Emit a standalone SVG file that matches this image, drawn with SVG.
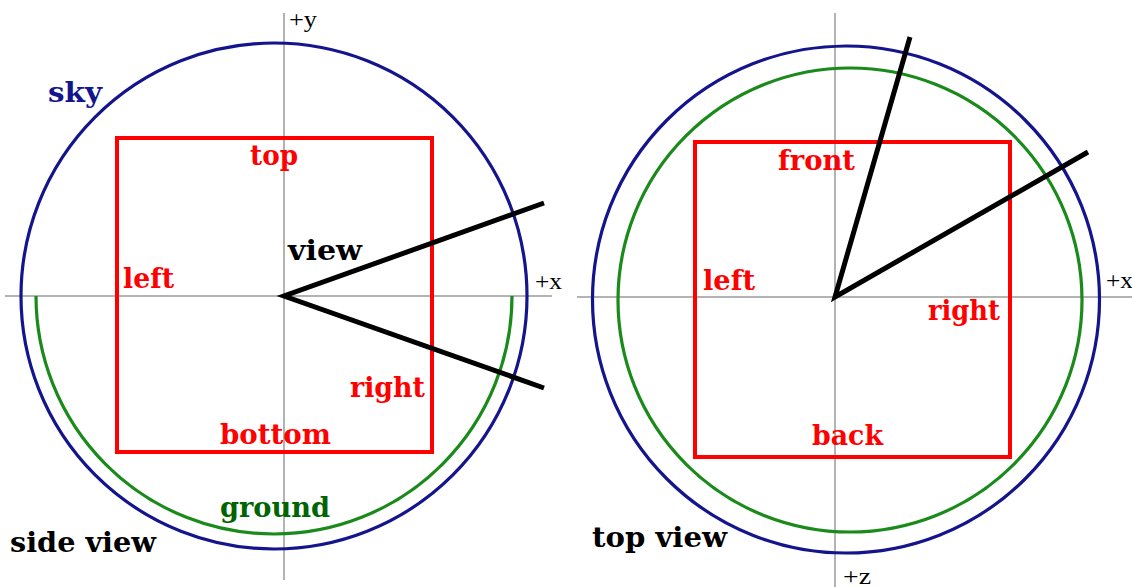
<svg xmlns="http://www.w3.org/2000/svg" width="1132" height="587" viewBox="0 0 1132 587">
<style>
.axis{stroke:#9a9a9a;stroke-width:1.5;fill:none}
.sky{stroke:#14148c;stroke-width:3.2;fill:none}
.gnd{stroke:#1a8a1a;stroke-width:3.2;fill:none}
.box{stroke:#ff0000;stroke-width:4;fill:none}
.ray{stroke:#000;stroke-width:5;fill:none;stroke-linecap:butt}
.lbl{font-family:"DejaVu Serif","Liberation Serif",serif;font-weight:bold;font-size:28px}
.ax{font-family:"Liberation Serif","DejaVu Serif",serif;font-size:24px;fill:#000}
.red{fill:#ff0000}
</style>
<rect width="1132" height="587" fill="#fff"/>
<g id="side-view">
  <g id="side-axes">
    <line class="axis" x1="284" y1="13" x2="284" y2="580"/>
    <line class="axis" x1="5" y1="296" x2="552" y2="296"/>
    <text class="ax" x="289" y="27" textLength="28" lengthAdjust="spacingAndGlyphs">+y</text>
    <text class="ax" x="535" y="289" textLength="27" lengthAdjust="spacingAndGlyphs">+x</text>
  </g>
  <circle id="side-sky" class="sky" cx="274" cy="296" r="253"/>
  <path id="side-ground" class="gnd" d="M36 296 A238 238 0 0 0 512 296"/>
  <rect id="side-box" class="box" x="117" y="138" width="315" height="314"/>
  <g id="side-rays">
    <polyline class="ray" points="544,203 284,296 544,388"/>
  </g>
  <text class="lbl" x="48" y="102" fill="#14148c" textLength="54" lengthAdjust="spacingAndGlyphs">sky</text>
  <text class="lbl red" x="250" y="165" textLength="48" lengthAdjust="spacingAndGlyphs">top</text>
  <text class="lbl" x="288" y="260" fill="#000" textLength="74" lengthAdjust="spacingAndGlyphs">view</text>
  <text class="lbl red" x="123" y="288" textLength="51" lengthAdjust="spacingAndGlyphs">left</text>
  <text class="lbl red" x="350" y="397" textLength="75" lengthAdjust="spacingAndGlyphs">right</text>
  <text class="lbl red" x="220" y="444" textLength="111" lengthAdjust="spacingAndGlyphs">bottom</text>
  <text class="lbl" x="220" y="517" fill="#006400" textLength="110" lengthAdjust="spacingAndGlyphs">ground</text>
  <text class="lbl" x="10" y="552" fill="#000" textLength="146" lengthAdjust="spacingAndGlyphs">side view</text>
</g>
<g id="top-view">
  <g id="top-axes">
    <line class="axis" x1="835" y1="13" x2="835" y2="587"/>
    <line class="axis" x1="577" y1="297" x2="1132" y2="297"/>
    <text class="ax" x="1106" y="288" textLength="27" lengthAdjust="spacingAndGlyphs">+x</text>
    <text class="ax" x="843" y="584" textLength="28" lengthAdjust="spacingAndGlyphs">+z</text>
  </g>
  <circle id="top-sky" class="sky" cx="846" cy="299.5" r="253.5"/>
  <circle id="top-ground" class="gnd" cx="850" cy="300" r="232"/>
  <rect id="top-box" class="box" x="695" y="142" width="315" height="315"/>
  <g id="top-rays">
    <polyline class="ray" points="910,37 835,297 1088,152"/>
  </g>
  <text class="lbl red" x="778" y="170" textLength="77" lengthAdjust="spacingAndGlyphs">front</text>
  <text class="lbl red" x="703" y="290" textLength="52" lengthAdjust="spacingAndGlyphs">left</text>
  <text class="lbl red" x="928" y="320" textLength="72" lengthAdjust="spacingAndGlyphs">right</text>
  <text class="lbl red" x="812" y="445" textLength="71" lengthAdjust="spacingAndGlyphs">back</text>
  <text class="lbl" x="592" y="547" fill="#000" textLength="135" lengthAdjust="spacingAndGlyphs">top view</text>
</g>
</svg>
